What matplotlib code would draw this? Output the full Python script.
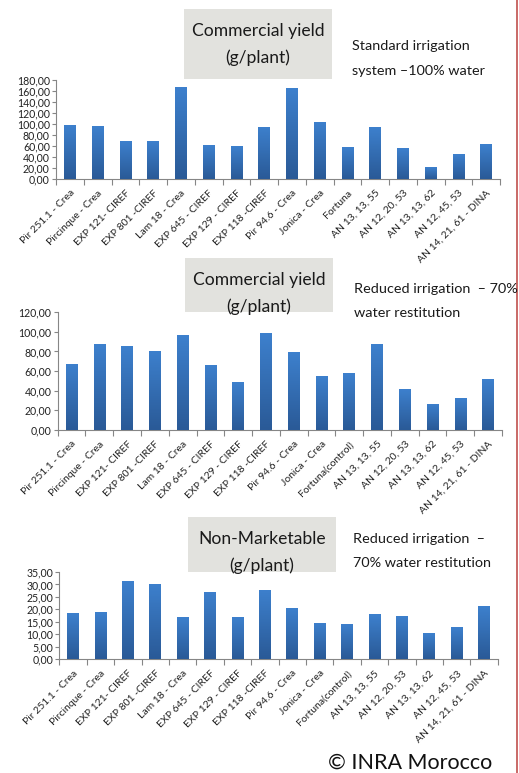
#!/usr/bin/env python3
"""Three bar panels: commercial / non-marketable yield per genotype (INRA Morocco)."""
import numpy as np
import matplotlib; matplotlib.use("Agg")
import matplotlib.pyplot as plt
from matplotlib.patches import Rectangle
from matplotlib.lines import Line2D
from matplotlib.ticker import FuncFormatter, FixedLocator
from matplotlib.colors import LinearSegmentedColormap

plt.rcParams["font.family"] = ["Lato", "DejaVu Sans"]

W, H = 519, 773

labels_std = ["Pir 251.1 - Crea", "Pircinque - Crea", "EXP 121- CIREF", "EXP 801 -CIREF",
              "Lam 18 - Crea", "EXP 645 - CIREF", "EXP 129 - CIREF", "EXP 118 -CIREF",
              "Pir 94.6 - Crea", "Jonica - Crea", "Fortuna", "AN 13, 13, 55", "AN 12, 20, 53",
              "AN 13, 13, 62", "AN 12, 45, 53", "AN 14, 21, 61 - DINA"]
labels_red = labels_std[:10] + ["Fortuna(control)"] + labels_std[11:]

yield_std = [98, 96, 69, 68.5, 166.5, 62, 59, 95, 165.5, 104, 57, 93.5, 56, 21, 45, 63]
yield_red = [67.5, 87.3, 85.6, 80.8, 96.8, 66.5, 48.8, 98.5, 79.1, 54.5, 57.6, 87.3, 41.9, 26.6, 32.7, 51.8]
nonmarket = [18.5, 18.8, 31.2, 30.2, 16.8, 27.0, 16.8, 27.9, 20.5, 14.5, 14.2, 18.0, 17.3, 10.3, 12.7, 21.3]

fig = plt.figure(figsize=(W / 100, H / 100), dpi=100)

def px_axes(l, r, t, b):
    return fig.add_axes([l / W, 1 - b / H, (r - l) / W, (b - t) / H])

grad = np.linspace(0, 1, 64).reshape(-1, 1)
cmap = LinearSegmentedColormap.from_list("bar", ["#2a5a97", "#3d80cd"])

def panel(ax, labels, vals, ymax, step):
    x = np.arange(len(vals))
    bars = ax.bar(x, vals, width=0.42, color="#3470b8", edgecolor="none", zorder=2)
    for b in bars:
        x0, y0 = b.get_x(), b.get_y()
        im = ax.imshow(grad, extent=(x0, x0 + b.get_width(), y0, y0 + b.get_height()),
                       origin="lower", cmap=cmap, aspect="auto", zorder=3)
        im.set_clip_path(b)
    ax.set_xlim(-0.5, len(vals) - 0.5); ax.set_ylim(0, ymax)
    ax.set_yticks(np.arange(0, ymax + step / 2, step))
    ax.yaxis.set_major_formatter(FuncFormatter(lambda v, p: f"{v:.2f}".replace(".", ",")))
    ax.set_xticks(x); ax.set_xticklabels(labels, rotation=45, ha="right", rotation_mode="anchor",
                                         fontsize=7.5, color="#222222")
    ax.xaxis.set_minor_locator(FixedLocator(np.arange(-0.5, len(vals), 1)))
    ax.tick_params(axis="x", which="major", length=0, pad=7)
    ax.tick_params(axis="x", which="minor", length=4, color="#868686", width=0.8)
    ax.tick_params(axis="y", length=3, color="#868686", width=0.8, labelsize=7.6, labelcolor="#222222", pad=1.5)
    for s in ("top", "right"): ax.spines[s].set_visible(False)
    for s in ("left", "bottom"): ax.spines[s].set_color("#868686"); ax.spines[s].set_linewidth(0.8)

def title_box(l, r, t, b, line1, line2):
    fig.add_artist(Rectangle((l / W, 1 - b / H), (r - l) / W, (b - t) / H,
                             transform=fig.transFigure, facecolor="#e2e2de", edgecolor="none", zorder=0))
    cx = (l + r) / 2
    fig.text(cx / W, 1 - (t + 22) / H, line1, ha="center", va="center", fontsize=12.6, color="#1a1a1a")
    fig.text(cx / W, 1 - (t + 49) / H, line2, ha="center", va="center", fontsize=12.6, color="#1a1a1a")

def side(x, y1, y2, l1, l2):
    fig.text(x / W, 1 - y1 / H, l1, ha="left", va="center", fontsize=10.4, color="#1a1a1a")
    fig.text(x / W, 1 - y2 / H, l2, ha="left", va="center", fontsize=10.4, color="#1a1a1a")

title_box(184, 332, 9, 79, "Commercial yield", "(g/plant)")
side(352, 46, 71, "Standard irrigation", "system \u2013100% water")
ax1 = px_axes(56, 500, 80, 178.7)
panel(ax1, labels_std, yield_std, 180, 20)

title_box(185, 333, 258, 328, "Commercial yield", "(g/plant)")
side(354, 289, 313, "Reduced irrigation  \u2013 70%", "water restitution")
ax2 = px_axes(57.7, 502, 312.3, 429.7)
panel(ax2, labels_red, yield_red, 120, 20)

title_box(188, 336, 517, 587, "Non-Marketable", "(g/plant)")
side(353, 539, 563, "Reduced irrigation  \u2013", "70% water restitution")
ax3 = px_axes(59.3, 497.7, 572, 659)
panel(ax3, labels_red, nonmarket, 35, 5)

fig.text(410 / W, 1 - 763 / H, "\u00a9 INRA Morocco", ha="center", va="center", fontsize=15.5, color="#111111")
fig.add_artist(Line2D([516.5 / W, 516.5 / W], [0, 1], transform=fig.transFigure, color="#c0504d", lw=1.2))

fig.savefig("out.png", dpi=100)
